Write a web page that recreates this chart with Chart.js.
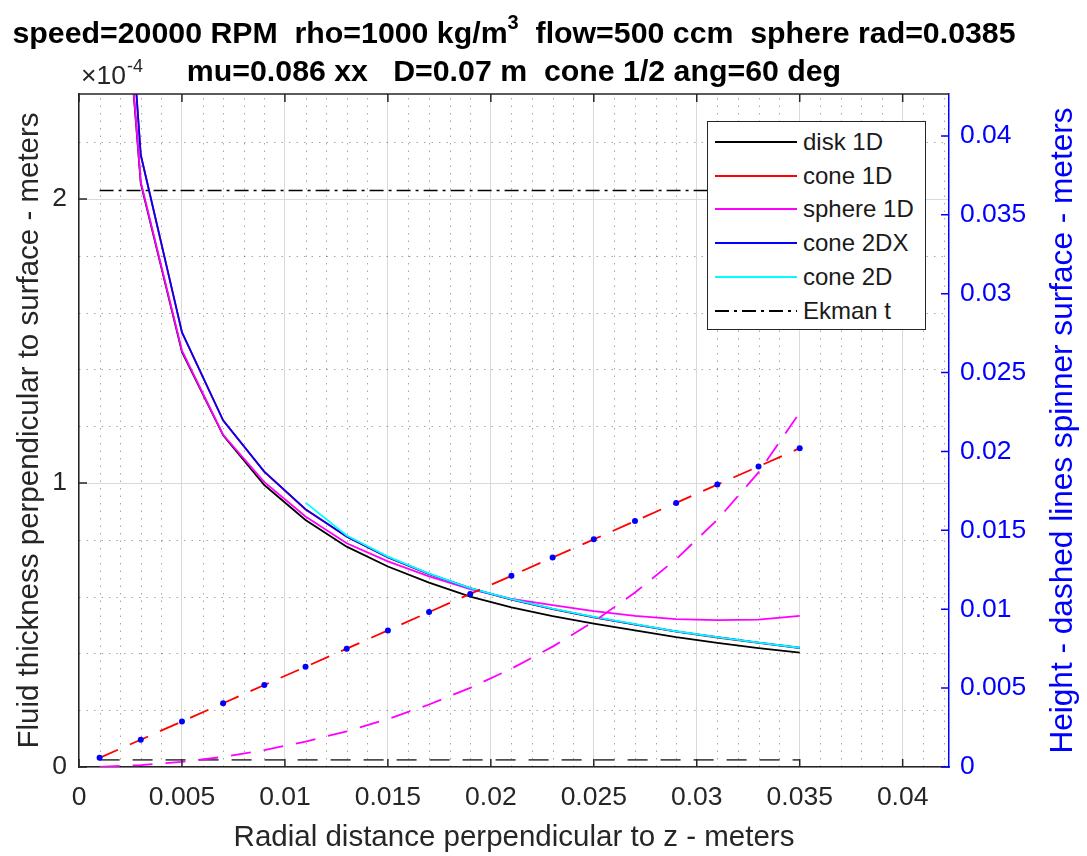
<!DOCTYPE html>
<html>
<head>
<meta charset="utf-8">
<title>Spinner film thickness</title>
<script src="https://cdn.jsdelivr.net/npm/chart.js@4.4.1/dist/chart.umd.min.js"></script>
<style>
    body { margin: 0; background: #fff; }
    #wrap { position: relative; width: 1087px; height: 856px; }
    #legend {
        position: absolute; left: 707px; top: 121px; width: 219px; height: 209px;
        box-sizing: border-box; padding-top: 3px;
        background: #fff; border: 1px solid #262626;
        font: 24px "Liberation Sans", Arial, sans-serif; color: #1a1a1a;
    }
    .row { height: 33.8px; display: flex; align-items: center; white-space: nowrap; }
    .row svg { margin-left: 7px; margin-right: 6px; flex: none; }
</style>
</head>
<body>
<div id="wrap">
    <canvas id="chart" width="1087" height="856"></canvas>
    <div id="legend"></div>
</div>
<script>
// radial positions (m)
const radius = [0.001, 0.003, 0.005, 0.007, 0.009, 0.011, 0.013, 0.015, 0.017,
                0.019, 0.021, 0.023, 0.025, 0.027, 0.029, 0.031, 0.033, 0.035];

// fluid thickness, left axis, in units of 1e-4 m
const disk1D   = [3.88, 2.055, 1.462, 1.168, 0.993, 0.870, 0.776, 0.706, 0.649, 0.600,
                  0.562, 0.531, 0.505, 0.481, 0.457, 0.437, 0.419, 0.403];
const cone1D   = [4.19, 2.155, 1.530, 1.220, 1.039, 0.907, 0.811, 0.738, 0.679, 0.629,
                  0.589, 0.556, 0.527, 0.501, 0.477, 0.456, 0.437, 0.419];
const sphere1D = [3.90, 2.060, 1.466, 1.170, 1.003, 0.882, 0.788, 0.724, 0.671, 0.626,
                  0.592, 0.570, 0.549, 0.532, 0.521, 0.517, 0.519, 0.532];
const cone2DX  = [4.20, 2.156, 1.531, 1.221, 1.040, 0.908, 0.812, 0.739, 0.680, 0.630,
                  0.590, 0.557, 0.528, 0.502, 0.478, 0.457, 0.438, 0.420];
const cone2D   = [null, null, null, null, null, 0.931, 0.815, 0.741, 0.681, 0.630,
                  0.591, 0.558, 0.529, 0.503, 0.478, 0.457, 0.438, 0.420];
const ekmanT = 2.03;

// spinner surface height, right axis (m)
const diskHeight = 0.00045;
const coneHeight   = [0.00058, 0.00173, 0.00289, 0.00404, 0.00520, 0.00635, 0.00750, 0.00866, 0.00982,
                      0.01097, 0.01212, 0.01328, 0.01443, 0.01559, 0.01674, 0.01790, 0.01905, 0.02021];
const sphereHeight = [0.00001, 0.00012, 0.00033, 0.00064, 0.00107, 0.00161, 0.00226, 0.00304, 0.00396,
                      0.00502, 0.00623, 0.00763, 0.00922, 0.01106, 0.01318, 0.01567, 0.01867, 0.02246];

// axis ranges and ticks
const xMax = 0.04225, xStep = 0.005, xMinor = 0.001;
const yMax = 2.37, yStep = 1, yMinor = 0.2;
const y2Max = 0.04266, y2Step = 0.005;

const FONT = '"Liberation Sans", Arial, sans-serif';
const AXIS_COLOR = '#262626';
const BLUE = '#0000ff';

Chart.defaults.font.family = FONT;

function toXY(ys) {
    return radius.map((r, i) => ({ x: r, y: ys[i] })).filter(p => p.y !== null);
}
function flat(v) {
    return [{ x: radius[0], y: v }, { x: radius[radius.length - 1], y: v }];
}

const fmt = digits => v => Number(v.toFixed(digits)).toString();

const lineDefaults = { pointRadius: 0, borderWidth: 1.8, tension: 0, fill: false };

const datasets = [
    { label: 'disk 1D', data: toXY(disk1D), borderColor: '#000000', yAxisID: 'y', inLegend: true },
    { label: 'cone 1D', data: toXY(cone1D), borderColor: '#ff0000', yAxisID: 'y', inLegend: true },
    { label: 'sphere 1D', data: toXY(sphere1D), borderColor: '#ff00ff', yAxisID: 'y', inLegend: true },
    { label: 'cone 2DX', data: toXY(cone2DX), borderColor: '#0000ff', yAxisID: 'y', inLegend: true },
    { label: 'cone 2D', data: toXY(cone2D), borderColor: '#00ffff', yAxisID: 'y', inLegend: true },
    { label: 'Ekman t', data: flat(ekmanT), borderColor: '#000000', borderDash: [14, 5, 3, 5], borderWidth: 1.6, yAxisID: 'y', inLegend: true },
    { label: 'disk height', data: flat(diskHeight), borderColor: '#4d4d4d', borderDash: [20, 13], borderWidth: 1.6, yAxisID: 'y2' },
    { label: 'cone height', data: toXY(coneHeight), borderColor: '#ff0000', borderDash: [20, 13], yAxisID: 'y2' },
    { label: 'sphere height', data: toXY(sphereHeight), borderColor: '#ff00ff', borderDash: [20, 13], yAxisID: 'y2' },
    { label: 'cone 2DX height', data: toXY(coneHeight), showLine: false, pointRadius: 3,
      pointBackgroundColor: BLUE, pointBorderColor: BLUE, pointBorderWidth: 0, yAxisID: 'y2' }
];
// later datasets are painted on top, like the original plot order
datasets.forEach((d, i) => {
    Object.keys(lineDefaults).forEach(k => { if (d[k] === undefined) d[k] = lineDefaults[k]; });
    d.order = datasets.length - i;
});

const decorations = {
    id: 'decorations',
    beforeDatasetsDraw(chart) {
        // dotted minor grid
        const { ctx, chartArea: a, scales: { x, y } } = chart;
        ctx.save();
        ctx.strokeStyle = 'rgba(0,0,0,0.35)';
        ctx.lineWidth = 1;
        ctx.setLineDash([1.5, 6]);
        ctx.beginPath();
        for (let k = 1; k * xMinor < xMax; k++) {
            if (k % 5 === 0) continue;
            const px = Math.round(x.getPixelForValue(k * xMinor)) + 0.5;
            ctx.moveTo(px, a.bottom);
            ctx.lineTo(px, a.top);
        }
        for (let k = 1; k * yMinor < yMax; k++) {
            if (k % 5 === 0) continue;
            const py = Math.round(y.getPixelForValue(k * yMinor)) + 0.5;
            ctx.moveTo(a.left, py);
            ctx.lineTo(a.right, py);
        }
        ctx.stroke();
        ctx.restore();
    },
    afterDatasetsDraw(chart) {
        // box top and inward tick marks
        const { ctx, chartArea: a, scales: { x, y, y2 } } = chart;
        const len = 8;
        ctx.save();
        ctx.lineWidth = 1.5;
        ctx.strokeStyle = AXIS_COLOR;
        ctx.beginPath();
        ctx.moveTo(a.left, a.top);
        ctx.lineTo(a.right, a.top);
        x.ticks.forEach(t => {
            const px = x.getPixelForValue(t.value);
            ctx.moveTo(px, a.bottom);
            ctx.lineTo(px, a.bottom - len);
            ctx.moveTo(px, a.top);
            ctx.lineTo(px, a.top + len);
        });
        y.ticks.forEach(t => {
            const py = y.getPixelForValue(t.value);
            ctx.moveTo(a.left, py);
            ctx.lineTo(a.left + len, py);
        });
        ctx.stroke();
        ctx.strokeStyle = BLUE;
        ctx.beginPath();
        y2.ticks.forEach(t => {
            const py = y2.getPixelForValue(t.value);
            ctx.moveTo(a.right, py);
            ctx.lineTo(a.right - len, py);
        });
        ctx.stroke();
        ctx.restore();
    },
    afterDraw(chart) {
        const { ctx, chartArea: a } = chart;
        const cx = (a.left + a.right) / 2;
        ctx.save();
        ctx.fillStyle = '#000';
        ctx.textBaseline = 'alphabetic';

        // two-line title with a superscript
        const bold = 'bold 30.3px ' + FONT;
        const supFont = 'bold 20px ' + FONT;
        const p1 = 'speed=20000 RPM  rho=1000 kg/m', sup = '3', p2 = '  flow=500 ccm  sphere rad=0.0385';
        ctx.font = bold;
        const w1 = ctx.measureText(p1).width, w2 = ctx.measureText(p2).width;
        ctx.font = supFont;
        const ws = ctx.measureText(sup).width;
        let sx = cx - (w1 + ws + w2) / 2;
        ctx.textAlign = 'left';
        ctx.font = bold;
        ctx.fillText(p1, sx, 43);
        ctx.font = supFont;
        ctx.fillText(sup, sx + w1, 29);
        ctx.font = bold;
        ctx.fillText(p2, sx + w1 + ws, 43);
        ctx.textAlign = 'center';
        ctx.fillText('mu=0.086 xx   D=0.07 m  cone 1/2 ang=60 deg', cx, 81);

        // exponent of the left axis
        ctx.fillStyle = AXIS_COLOR;
        ctx.textAlign = 'left';
        ctx.font = '26.5px ' + FONT;
        ctx.fillText('\u00d710', a.left + 2, 84);
        const we = ctx.measureText('\u00d710').width;
        ctx.font = '18px ' + FONT;
        ctx.fillText('-4', a.left + 3 + we, 72);

        // right axis title, reading upwards
        ctx.translate(1063, (a.top + a.bottom) / 2);
        ctx.rotate(-Math.PI / 2);
        ctx.textAlign = 'center';
        ctx.textBaseline = 'middle';
        ctx.fillStyle = BLUE;
        ctx.font = '31.6px ' + FONT;
        ctx.fillText('Height - dashed lines spinner surface - meters', 0, 0);
        ctx.restore();
    }
};

const tickFont = { size: 26.5 };
const labelFont = { size: 29.5 };

const chart = new Chart(document.getElementById('chart'), {
    type: 'line',
    data: { datasets },
    options: {
        responsive: false,
        animation: false,
        events: [],
        layout: { padding: { top: 94, left: 0, right: 0, bottom: 0 } },
        plugins: { legend: { display: false }, tooltip: { enabled: false }, title: { display: false } },
        scales: {
            x: {
                type: 'linear', min: 0, max: xMax, bounds: 'data',
                ticks: { stepSize: xStep, includeBounds: false, autoSkip: false, maxRotation: 0,
                         padding: 15, color: AXIS_COLOR, font: tickFont, callback: fmt(3) },
                grid: { color: '#dadada', lineWidth: 1, drawTicks: false },
                border: { color: AXIS_COLOR, width: 1.5 },
                title: { display: true, text: 'Radial distance perpendicular to z - meters',
                         color: AXIS_COLOR, font: labelFont, padding: { top: 0, bottom: 0 } },
                afterFit: s => { s.height = 89; }
            },
            y: {
                type: 'linear', position: 'left', min: 0, max: yMax, bounds: 'data',
                ticks: { stepSize: yStep, includeBounds: false, padding: 12,
                         color: AXIS_COLOR, font: tickFont, callback: fmt(1) },
                grid: { color: '#dadada', lineWidth: 1, drawTicks: false },
                border: { color: AXIS_COLOR, width: 1.5 },
                title: { display: true, text: 'Fluid thickness perpendicular to surface - meters',
                         color: AXIS_COLOR, font: labelFont, padding: { top: 12, bottom: 0 } },
                afterFit: s => { s.width = 79; }
            },
            y2: {
                type: 'linear', position: 'right', min: 0, max: y2Max, bounds: 'data',
                ticks: { stepSize: y2Step, includeBounds: false, padding: 11,
                         color: BLUE, font: tickFont, callback: fmt(3) },
                grid: { display: false, drawTicks: false },
                border: { color: BLUE, width: 1.5 },
                afterFit: s => { s.width = 138; }
            }
        }
    },
    plugins: [decorations]
});

// legend box built from the datasets
const legendBox = document.getElementById('legend');
chart.data.datasets.filter(d => d.inLegend).forEach(d => {
    const row = document.createElement('div');
    row.className = 'row';
    const dash = d.borderDash ? d.borderDash.join(' ') : 'none';
    row.innerHTML = `
        <svg width="82" height="10"><line x1="0" y1="5" x2="82" y2="5" stroke="${d.borderColor}"
             stroke-width="2" stroke-dasharray="${dash}"/></svg>
        <span>${d.label}</span>`;
    legendBox.appendChild(row);
});
</script>
</body>
</html>
